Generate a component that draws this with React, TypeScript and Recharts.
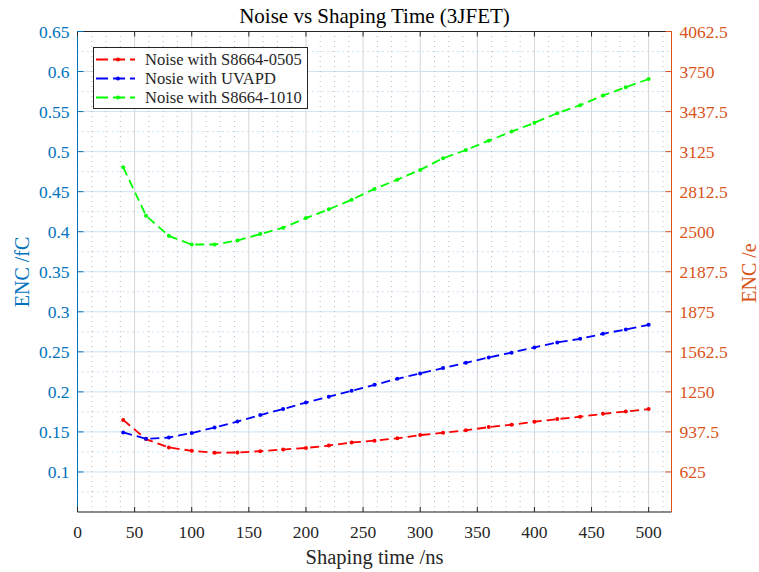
import { LineChart, Line, XAxis, YAxis, CartesianGrid, ReferenceLine, Legend } from 'recharts';

// shaping time (ns) and ENC (fC)
const shapingTime = [40, 60, 80, 100, 120, 140, 160, 180, 200, 220, 240, 260, 280, 300, 320, 340, 360, 380, 400, 420, 440, 460, 480, 500];
const noiseS0505 = [0.165, 0.141, 0.1306, 0.1264, 0.124, 0.1243, 0.126, 0.128, 0.13, 0.133, 0.1368, 0.139, 0.142, 0.146, 0.149, 0.152, 0.156, 0.159, 0.1627, 0.166, 0.169, 0.1726, 0.1755, 0.1785];
const noiseUVAPD = [0.1493, 0.1414, 0.143, 0.1486, 0.1556, 0.163, 0.171, 0.1785, 0.1867, 0.194, 0.2013, 0.2088, 0.2163, 0.223, 0.2297, 0.2363, 0.243, 0.249, 0.2555, 0.2617, 0.2663, 0.2725, 0.278, 0.2837];
const noiseS1010 = [0.4805, 0.42, 0.3948, 0.384, 0.384, 0.389, 0.397, 0.405, 0.417, 0.428, 0.44, 0.4534, 0.465, 0.4772, 0.4917, 0.502, 0.5137, 0.525, 0.536, 0.548, 0.558, 0.57, 0.5804, 0.5907];
const seriesNames = ['Noise with S8664-0505', 'Nosie with UVAPD', 'Noise with S8664-1010'];

const xTicks = [0, 50, 100, 150, 200, 250, 300, 350, 400, 450, 500];
const leftTicks = [0.1, 0.15, 0.2, 0.25, 0.3, 0.35, 0.4, 0.45, 0.5, 0.55, 0.6, 0.65];
const rightTicks = [625, 937.5, 1250, 1562.5, 1875, 2187.5, 2500, 2812.5, 3125, 3437.5, 3750, 4062.5];
const xMinor = Array.from({ length: 41 }, (_, i) => 12.5 * (i + 1)).filter((v) => v % 50 !== 0);
const yMinor = Array.from({ length: 12 }, (_, i) => 0.075 + 0.05 * i);

// 1 fC = 6250 e
const data = shapingTime.map((t, i) => ({
  t,
  s0505: noiseS0505[i],
  uvapd: noiseUVAPD[i],
  s1010: noiseS1010[i],
  electrons: noiseS1010[i] * 6250,
}));

const W = 759;
const H = 572;
const PL = 77.5;
const PR = 671.5;
const PT = 31.5;
const PB = 512;
const FONT = 'Liberation Serif, serif';
const BLUE = '#0072BD';
const ORANGE = '#D95319';
const DARK = '#262626';

const LeftTick = ({ y, payload }: any) => (
  <g>
    <line x1={PL} x2={PL + 6} y1={y} y2={y} stroke={BLUE} />
    <text x={PL - 8} y={y} dy={6} textAnchor="end" fill={BLUE} fontSize={17.5} fontFamily={FONT}>
      {payload.value}
    </text>
  </g>
);

const RightTick = ({ y, payload }: any) => (
  <g>
    <line x1={PR} x2={PR - 6} y1={y} y2={y} stroke={ORANGE} />
    <text x={PR + 8} y={y} dy={6} textAnchor="start" fill={ORANGE} fontSize={17.5} fontFamily={FONT}>
      {payload.value}
    </text>
  </g>
);

const BottomTick = ({ x, payload }: any) => (
  <g>
    <line x1={x} x2={x} y1={PB} y2={PB - 5} stroke={DARK} />
    <text x={x} y={PB + 25.5} textAnchor="middle" fill={DARK} fontSize={17.5} fontFamily={FONT}>
      {payload.value}
    </text>
  </g>
);

const TopTick = ({ x }: any) => <line x1={x} x2={x} y1={PT} y2={PT + 5} stroke={DARK} />;

const LegendBox = ({ payload }: any) => {
  const items = (payload || [])
    .filter((p: any) => seriesNames.includes(p.value))
    .sort((a: any, b: any) => seriesNames.indexOf(a.value) - seriesNames.indexOf(b.value));
  return (
    <div
      style={{
        position: 'relative',
        width: 215,
        height: 62,
        boxSizing: 'border-box',
        border: `1px solid ${DARK}`,
        background: '#fff',
        fontFamily: FONT,
      }}
    >
      {items.map((p: any, i: number) => (
        <div key={p.value} style={{ position: 'absolute', left: 2, top: 2 + 19 * i, height: 19, whiteSpace: 'nowrap' }}>
          <svg width={40} height={19} style={{ position: 'absolute', left: 0, top: 0 }}>
            <line x1={0} x2={39} y1={9.5} y2={9.5} stroke={p.color} strokeWidth={1.8} strokeDasharray="12 5" />
            <circle cx={22} cy={9.5} r={2} fill={p.color} />
          </svg>
          <span style={{ position: 'absolute', left: 49, top: 0, fontSize: 16.5, lineHeight: '19px', color: DARK }}>
            {p.value}
          </span>
        </div>
      ))}
    </div>
  );
};

export default function App() {
  return (
    <div style={{ position: 'absolute', left: 0, top: 0, width: W, height: H, background: '#fff' }}>
      <div
        style={{
          position: 'absolute',
          left: 0,
          top: 6,
          width: W - 10,
          textAlign: 'center',
          fontFamily: FONT,
          fontSize: 21,
          lineHeight: '21px',
          color: '#000',
          zIndex: 2,
        }}
      >
        Noise vs Shaping Time (3JFET)
      </div>
      <LineChart width={W} height={H} data={data} margin={{ top: PT - 1, right: 17.5, bottom: 20, left: 17.5 }}>
        <CartesianGrid xAxisId="x" yAxisId="left" horizontal={false} stroke="#d6d6d6" />
        <CartesianGrid xAxisId="x" yAxisId="left" vertical={false} stroke="#cfe2f2" />
        {xMinor.map((v) => (
          <ReferenceLine key={`mx${v}`} xAxisId="x" yAxisId="left" x={v} stroke="#b9b9b9" strokeDasharray="1 4" />
        ))}
        {yMinor.map((v) => (
          <ReferenceLine key={`my${v}`} xAxisId="x" yAxisId="left" y={v} stroke="#9cc6e6" strokeDasharray="1 4" />
        ))}
        <XAxis
          xAxisId="x"
          dataKey="t"
          type="number"
          domain={[0, 520]}
          ticks={xTicks}
          interval={0}
          height={40}
          axisLine={{ stroke: DARK }}
          tickLine={false}
          tick={<BottomTick />}
          label={{
            content: () => (
              <text x={(PL + PR) / 2} y={564} textAnchor="middle" fill={DARK} fontSize={20.5} fontFamily={FONT}>
                Shaping time /ns
              </text>
            ),
          }}
        />
        <XAxis
          xAxisId="top"
          orientation="top"
          dataKey="t"
          type="number"
          domain={[0, 520]}
          ticks={xTicks}
          interval={0}
          height={1}
          axisLine={{ stroke: DARK }}
          tickLine={false}
          tick={<TopTick />}
        />
        <YAxis
          yAxisId="left"
          type="number"
          domain={[0.05, 0.65]}
          ticks={leftTicks}
          interval={0}
          width={60}
          axisLine={{ stroke: BLUE }}
          tickLine={false}
          tick={<LeftTick />}
          label={{
            content: () => (
              <text x={29} y={272} transform="rotate(-90 29 272)" textAnchor="middle" fill={BLUE} fontSize={20} fontFamily={FONT}>
                ENC /fC
              </text>
            ),
          }}
        />
        <YAxis
          yAxisId="right"
          orientation="right"
          type="number"
          domain={[312.5, 4062.5]}
          ticks={rightTicks}
          interval={0}
          width={70}
          axisLine={{ stroke: ORANGE }}
          tickLine={false}
          tick={<RightTick />}
          label={{
            content: () => (
              <text x={756} y={273} transform="rotate(-90 756 273)" textAnchor="middle" fill={ORANGE} fontSize={20} fontFamily={FONT}>
                ENC /e
              </text>
            ),
          }}
        />
        <Legend
          layout="horizontal"
          verticalAlign="middle"
          align="center"
          content={<LegendBox />}
          wrapperStyle={{ left: 93, top: 47, width: 'auto', height: 'auto' }}
        />
        {/* invisible series that ties the top and right axes to the data */}
        <Line
          xAxisId="top"
          yAxisId="right"
          dataKey="electrons"
          stroke="transparent"
          strokeWidth={0}
          dot={false}
          activeDot={false}
          legendType="none"
          isAnimationActive={false}
        />
        <Line
          xAxisId="x"
          yAxisId="left"
          type="linear"
          dataKey="s0505"
          name={seriesNames[0]}
          stroke="#ff0000"
          strokeWidth={1.8}
          strokeDasharray="9 5"
          dot={{ r: 2, fill: '#ff0000', strokeWidth: 0 }}
          isAnimationActive={false}
        />
        <Line
          xAxisId="x"
          yAxisId="left"
          type="linear"
          dataKey="uvapd"
          name={seriesNames[1]}
          stroke="#0000ff"
          strokeWidth={1.8}
          strokeDasharray="9 5"
          dot={{ r: 2, fill: '#0000ff', strokeWidth: 0 }}
          isAnimationActive={false}
        />
        <Line
          xAxisId="x"
          yAxisId="left"
          type="linear"
          dataKey="s1010"
          name={seriesNames[2]}
          stroke="#00ff00"
          strokeWidth={1.8}
          strokeDasharray="9 5"
          dot={{ r: 2, fill: '#00ff00', strokeWidth: 0 }}
          isAnimationActive={false}
        />
      </LineChart>
    </div>
  );
}
